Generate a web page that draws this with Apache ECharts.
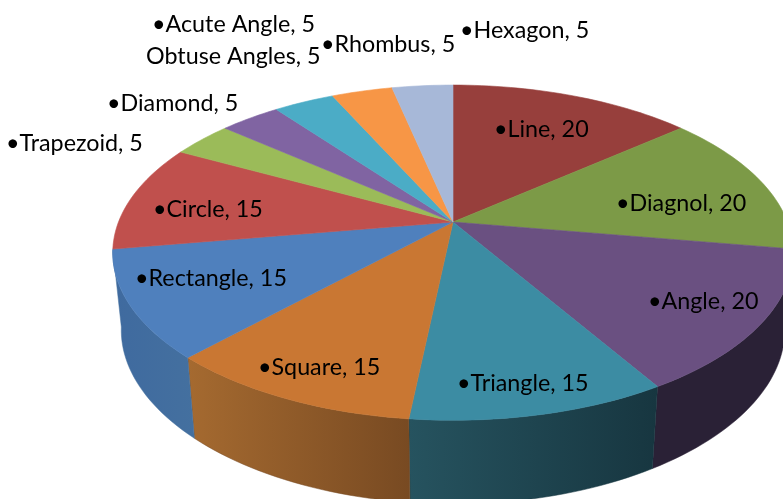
<!DOCTYPE html>
<html>
<head>
<meta charset="utf-8">
<style>
html, body { margin: 0; padding: 0; background: #fff; }
#chart { width: 783px; height: 499px; }
</style>
<script src="https://cdn.jsdelivr.net/npm/echarts@6/dist/echarts.min.js"></script>
</head>
<body>
<div id="chart"></div>
<script>
// data, clockwise from 12 o'clock
const categories = ['Line', 'Diagnol', 'Angle', 'Triangle', 'Square', 'Rectangle', 'Circle', 'Trapezoid', 'Diamond', 'Obtuse Angles', 'Rhombus', 'Hexagon'];
const values = [20, 20, 20, 15, 15, 15, 15, 5, 5, 5, 5, 5];
// this label has no wedge of its own in the picture
const extraCategories = ['Acute Angle'];
const extraValues = [5];

const topColors = ['#973f3c', '#7c9a47', '#6a5081', '#3c8ca3', '#c97733', '#4f80bd', '#c0504d', '#9bbb59', '#8064a2', '#4bacc6', '#f79646', '#a7b8d8'];
const wallColors = [
  ['#6e2e2c', '#6e2e2c'], ['#5a7034', '#5a7034'], ['#2a2136', '#2a2136'], ['#26535f', '#173640'],
  ['#a56a30', '#784a22'], ['#3f6a9f', '#44709f'], ['#8c3a38', '#8c3a38'], ['#9bbb59', '#9bbb59'],
  ['#8064a2', '#8064a2'], ['#4bacc6', '#4bacc6'], ['#f79646', '#f79646'], ['#a7b8d8', '#a7b8d8']
];

// label left edge / middle y, same order as categories then extraCategories
const labelPos = [[494, 129], [616, 203], [648, 301], [457, 383], [258, 367], [135, 278], [153, 209], [6, 143], [107, 103], [146, 56], [321, 44], [460, 30], [152, 24]];
const noBullet = ['Obtuse Angles'];

// perspective of the pie top
const cx = 453, cy = 222, radX = 334.5, radY = 162, persp = 0.183;
// bottom rim has its own vertical fit
const bottomScale = 0.975, bottomDrop = 77, bottomRadY = 164, bottomPersp = 0.2;

function project(deg, isBottom) {
  const t = deg * Math.PI / 180;
  const c = Math.cos(t);
  const w = 1 + persp * c;
  const dx = radX * Math.sin(t) / w;
  if (isBottom) return [cx + dx * bottomScale, cy + bottomDrop - bottomRadY * c / (1 + bottomPersp * c)];
  return [cx + dx, cy - radY * c / w];
}

const total = values.reduce((a, b) => a + b, 0);
let running = 0;
const starts = values.map(v => { const s = running; running += v; return s / total * 360; });
const ends = values.map((v, i) => starts[i] + v / total * 360);

function arc(a, b, isBottom) {
  const pts = [];
  const n = Math.max(2, Math.ceil((b - a) / 1.5));
  for (let i = 0; i <= n; i++) pts.push(project(a + (b - a) * i / n, isBottom));
  return pts;
}

function renderTop(params, api) {
  const i = api.value(0);
  return {
    type: 'polygon',
    shape: { points: [[cx, cy]].concat(arc(starts[i], ends[i], false)) },
    style: { fill: topColors[i], stroke: topColors[i], lineWidth: 0.6 }
  };
}

function renderWall(params, api) {
  const i = api.value(0);
  // only the part of the rim that faces the viewer
  const a = Math.max(starts[i], 99), b = Math.min(ends[i], 260.5);
  if (b <= a) return null;
  const pts = arc(a, b, false).concat(arc(a, b, true).reverse());
  return {
    type: 'polygon',
    shape: { points: pts },
    style: {
      fill: new echarts.graphic.LinearGradient(0, 0, 1, 0, [
        { offset: 0, color: wallColors[i][0] },
        { offset: 1, color: wallColors[i][1] }
      ]),
      stroke: wallColors[i][1],
      lineWidth: 0.5
    }
  };
}

const labelNames = categories.concat(extraCategories);
const labelValues = values.concat(extraValues);

function renderLabel(params, api) {
  const i = api.value(0);
  const bullet = noBullet.indexOf(labelNames[i]) >= 0 ? '' : '•';
  return {
    type: 'text',
    x: labelPos[i][0],
    y: labelPos[i][1],
    style: {
      text: bullet + labelNames[i] + ', ' + labelValues[i],
      font: '23.3px Lato, sans-serif',
      fill: '#000',
      textAlign: 'left',
      textVerticalAlign: 'middle'
    }
  };
}

const myChart = echarts.init(document.getElementById('chart'), null, { renderer: 'canvas' });
myChart.setOption({
  animation: false,
  backgroundColor: '#fff',
  series: [
    { type: 'custom', coordinateSystem: 'none', silent: true, z: 1, renderItem: renderWall, data: categories.map((c, i) => [i]) },
    { type: 'custom', coordinateSystem: 'none', silent: true, z: 2, renderItem: renderTop, data: categories.map((c, i) => [i]) },
    { type: 'custom', coordinateSystem: 'none', silent: true, z: 3, renderItem: renderLabel, data: labelNames.map((c, i) => [i]) }
  ]
});
</script>
</body>
</html>
